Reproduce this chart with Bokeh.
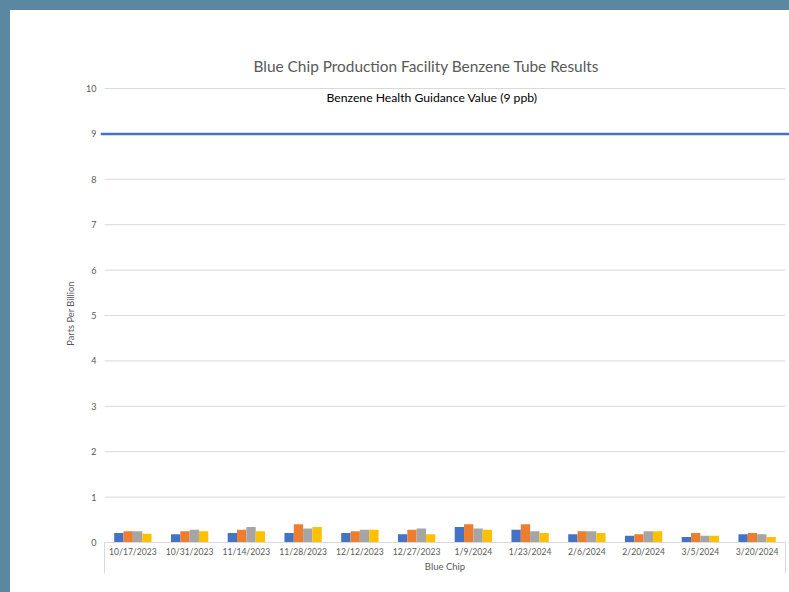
import numpy as np
from bokeh.plotting import figure
from bokeh.models import Range1d, FixedTicker, ColumnDataSource, Label, Span
from bokeh.transform import dodge
from bokeh.embed import file_html
from bokeh.resources import INLINE
from bokeh.core.properties import value

# ---- data ----
dates = ["10/17/2023", "10/31/2023", "11/14/2023", "11/28/2023", "12/12/2023",
         "12/27/2023", "1/9/2024", "1/23/2024", "2/6/2024", "2/20/2024",
         "3/5/2024", "3/20/2024"]
tube1 = [0.21, 0.18, 0.21, 0.21, 0.21, 0.18, 0.34, 0.28, 0.18, 0.15, 0.12, 0.18]
tube2 = [0.25, 0.25, 0.28, 0.40, 0.25, 0.28, 0.40, 0.40, 0.25, 0.18, 0.21, 0.21]
tube3 = [0.25, 0.28, 0.34, 0.31, 0.28, 0.31, 0.31, 0.25, 0.25, 0.25, 0.15, 0.18]
tube4 = [0.19, 0.25, 0.25, 0.34, 0.28, 0.18, 0.28, 0.21, 0.21, 0.25, 0.15, 0.12]
guidance_value = 9
guidance_text = "Benzene Health Guidance Value (9 ppb)"
y_ticks = list(range(0, 11))
title_text = "Blue Chip Production Facility Benzene Tube Results"
x_title = "Blue Chip"
y_title = "Parts Per Billion"

colors = ["#4472C4", "#ED7D31", "#A5A5A5", "#FFC000"]
FONT = "Lato"
GREY = "#595959"
LINE = "#D9D9D9"

idx = list(range(len(dates)))
src = ColumnDataSource(dict(x=idx, t1=tube1, t2=tube2, t3=tube3, t4=tube4))

x_lo, x_hi = -0.5, len(dates) - 0.5

p = figure(width=779, height=582,
           x_range=Range1d(-0.5705, 11.5705), y_range=Range1d(0, 10.088),
           toolbar_location=None, output_backend="svg",
           min_border_left=90, min_border_right=0, min_border_top=74,
           min_border_bottom=50)
p.styles = {"position": "relative", "left": "10px", "top": "10px",
            "box-shadow": "-10px -10px 0 10px #5B87A1"}
p.outline_line_color = None
p.background_fill_color = "white"
p.border_fill_color = "white"
p.xgrid.visible = False
p.ygrid.visible = False

# title
p.title.text = title_text
p.title.text_font = FONT
p.title.text_font_size = "15.4px"
p.title.text_font_style = "normal"
p.title.text_color = GREY
p.title.align = "left"
p.title.offset = 153
if "standoff" in p.title.properties():
    p.title.standoff = 19

# gridlines
grid_y = [v for v in y_ticks if v > 0]
p.segment(x0=x_lo, x1=x_hi, y0=grid_y, y1=grid_y, line_color=LINE, line_width=1)

# bars
w = 0.1645
for i, (col, c) in enumerate(zip(["t1", "t2", "t3", "t4"], colors)):
    off = (i - 1.5) * w
    p.vbar(x=dodge("x", off), top=col, width=w, bottom=0, source=src,
           fill_color=c, line_color=None)

# guidance line
p.add_layout(Span(location=guidance_value, dimension="width",
                  line_color="#4472C4", line_width=2.5))
p.add_layout(Label(x=5.27, y=9.8, text=guidance_text, text_align="center",
                   text_baseline="middle", text_font=FONT,
                   text_font_size="12.2px", text_color="black"))

# y axis
ya = p.yaxis[0]
ya.ticker = FixedTicker(ticks=y_ticks)
ya.axis_line_color = None
ya.major_tick_line_color = None
ya.minor_tick_line_color = None
ya.major_tick_out = 0
ya.major_tick_in = 0
ya.major_label_standoff = 4
ya.major_label_text_font = FONT
ya.major_label_text_font_size = "9px"
ya.major_label_text_color = GREY
ya.axis_label = y_title
ya.axis_label_text_font = FONT
ya.axis_label_text_font_size = "9.3px"
ya.axis_label_text_font_style = "normal"
ya.axis_label_text_color = GREY
ya.axis_label_standoff = 7

# x (category) axis; outer separators drawn as long minor ticks
xa = p.xaxis[0]
xa.ticker = FixedTicker(ticks=idx, minor_ticks=[x_lo, x_hi])
xa.bounds = (x_lo, x_hi)
xa.major_label_overrides = {i: d for i, d in zip(idx, dates)}
xa.axis_line_color = LINE
xa.major_tick_line_color = None
xa.major_tick_out = 0
xa.major_tick_in = 0
xa.minor_tick_line_color = LINE
xa.minor_tick_out = 31
xa.minor_tick_in = 0
xa.major_label_standoff = -27
xa.major_label_text_font = FONT
xa.major_label_text_font_size = "8.6px"
xa.major_label_text_color = GREY
xa.axis_label = x_title
xa.axis_label_text_font = FONT
xa.axis_label_text_font_size = "9.5px"
xa.axis_label_text_font_style = "normal"
xa.axis_label_text_color = GREY
xa.axis_label_standoff = 1

open("out.html", "w").write(file_html(p, INLINE))
